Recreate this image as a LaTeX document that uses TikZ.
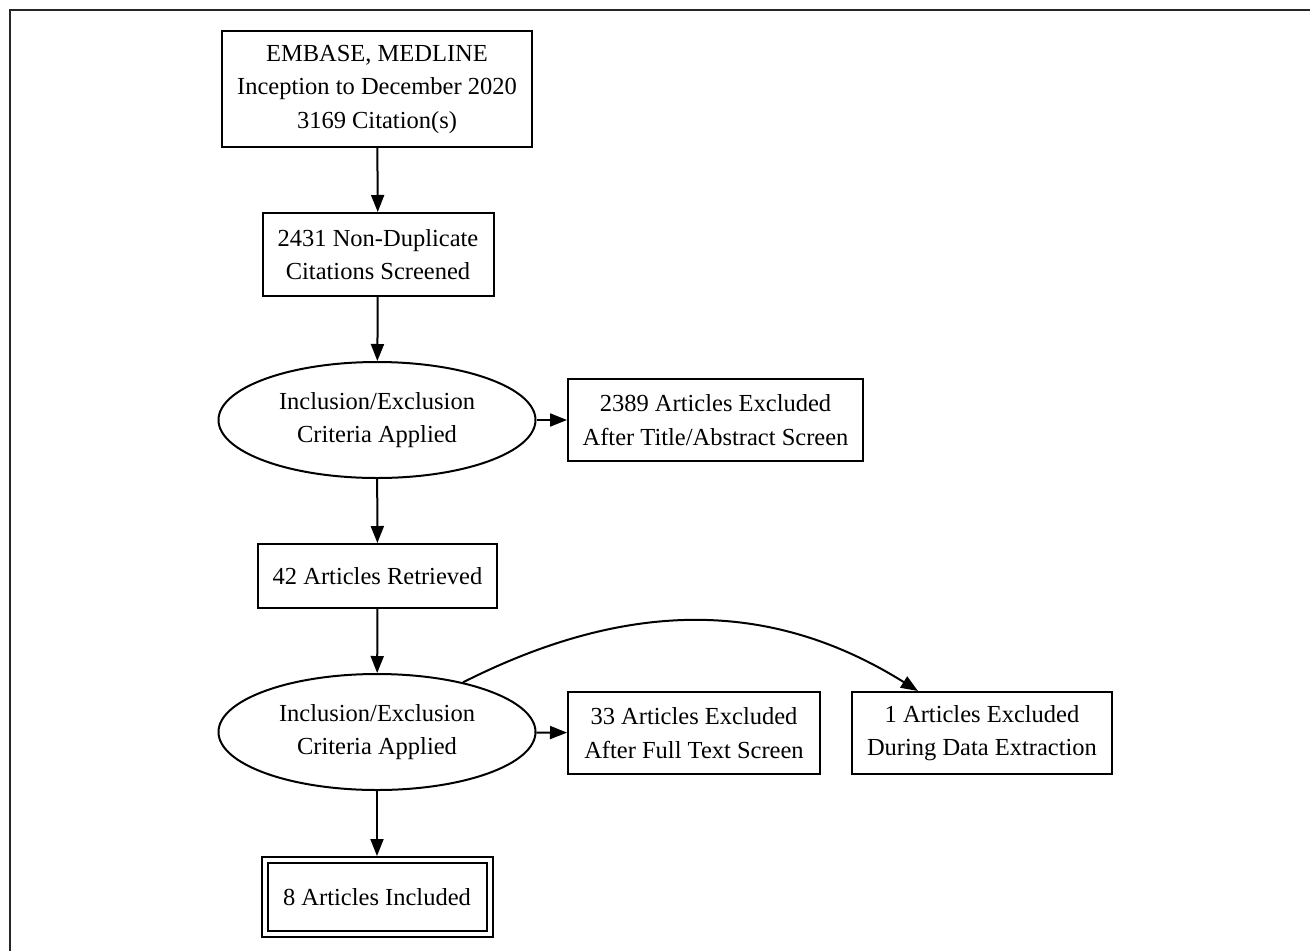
\documentclass[tikz,border=0pt]{standalone}
\usepackage{fontspec}
\setmainfont{Liberation Serif}
\usetikzlibrary{arrows.meta,shapes.geometric}
\begin{document}
\begin{tikzpicture}[x=1pt,y=-1pt,
  every node/.style={font=\fontsize{24.5}{33.5}\selectfont, align=center, inner sep=0pt},
  boxn/.style={draw, line width=2pt, rectangle, minimum width=#1},
  elln/.style={draw, line width=2pt, ellipse, minimum width=317pt, minimum height=116pt},
  conn/.style={line width=2pt, -{Triangle[length=17pt,width=13pt]}},
  frameln/.style={line width=2.5pt, draw=black!85}]
\useasboundingbox (0,0) rectangle (1310,951);
\draw[frameln] (10,951) -- (10,10) -- (1310,10);

\node[boxn=310pt, minimum height=116pt] (b1) at (377,89) {EMBASE, MEDLINE\\Inception to December 2020\\3169 Citation(s)};
\node[boxn=231pt, minimum height=83pt] (b2) at (378,254.5) {2431 Non-Duplicate\\Citations Screened};
\node[elln] (e1) at (377,420) {Inclusion/Exclusion\\Criteria Applied};
\node[boxn=295pt, minimum height=82pt] (x1) at (715.5,420) {2389 Articles Excluded\\After Title/Abstract Screen};
\node[boxn=239pt, minimum height=64pt] (b3) at (377.5,576) {42 Articles Retrieved};
\node[elln] (e2) at (377,732) {Inclusion/Exclusion\\Criteria Applied};
\node[boxn=252pt, minimum height=82pt] (x2) at (694,733) {33 Articles Excluded\\After Full Text Screen};
\node[boxn=260pt, minimum height=82pt] (x3) at (982,733) {1 Articles Excluded\\During Data Extraction};
\node[boxn=231pt, minimum height=80pt] (b4) at (377,897) {8 Articles Included};
\draw[line width=2pt] ([xshift=7pt,yshift=-7pt]b4.north west) rectangle ([xshift=-7pt,yshift=7pt]b4.south east);
\coordinate (x3tip) at ([xshift=-64pt]x3.north);

\draw[conn] (b1) -- (b2);
\draw[conn] (b2) -- (e1);
\draw[conn] (e1) -- (x1);
\draw[conn] (e1) -- (b3);
\draw[conn] (b3) -- (e2);
\draw[conn] (e2) -- (x2);
\draw[conn] (e2) -- (b4);
\draw[conn] (e2.30) .. controls (628,599) and (771,599) .. (x3tip);
\end{tikzpicture}
\end{document}
